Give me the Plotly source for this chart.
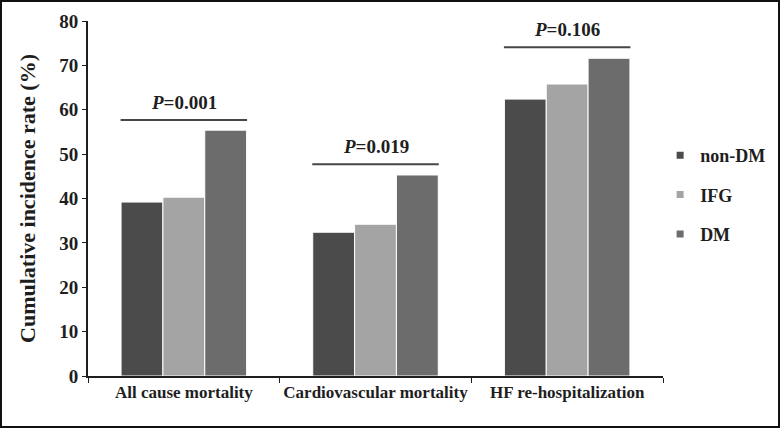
import plotly.graph_objects as go

categories = ["All cause mortality", "Cardiovascular mortality", "HF re-hospitalization"]
non_dm = [39.2, 32.4, 62.4]
ifg = [40.3, 34.2, 65.8]
dm = [55.4, 45.3, 71.6]
p_values = ["0.001", "0.019", "0.106"]
p_line_y = [57.7, 47.7, 74.1]

series = [("non-DM", non_dm, "#4b4b4b"), ("IFG", ifg, "#a4a4a4"), ("DM", dm, "#6c6c6c")]

font_fam = "Liberation Serif"
ink = "#1e1e1e"

fig = go.Figure()
for name, vals, col in series:
    fig.add_trace(go.Bar(x=categories, y=vals, name=name, marker_color=col,
                         marker_line_color="white", marker_line_width=1,
                         showlegend=False, legendgroup=name))
for name, vals, col in series:
    fig.add_trace(go.Scatter(x=[None], y=[None], mode="markers", name="<b>" + name + "</b>",
                             marker=dict(symbol="square", size=7, color=col),
                             legendgroup=name, showlegend=True))

for i, (p, yv) in enumerate(zip(p_values, p_line_y)):
    fig.add_shape(type="line", xref="x", yref="y", x0=i - 0.33, x1=i + 0.33, y0=yv, y1=yv,
                  line=dict(color="#464646", width=2))
    fig.add_annotation(x=i, y=yv, xref="x", yref="y", text="<b><i>P</i>=" + p + "</b>",
                       showarrow=False, yanchor="bottom", yshift=5,
                       font=dict(family=font_fam, size=19, color=ink))

W, H = 780, 428
ml, mr, mt, mb = 88, 117, 21, 52
pw, ph = W - ml - mr, H - mt - mb

fig.update_layout(
    width=W, height=H,
    margin=dict(l=ml, r=mr, t=mt, b=mb, autoexpand=False),
    paper_bgcolor="white", plot_bgcolor="white",
    barmode="group", bargap=0.345, bargroupgap=0,
    font=dict(family=font_fam, color=ink),
    showlegend=True,
    legend=dict(x=0.995, y=0.51, xanchor="left", yanchor="middle",
                font=dict(family=font_fam, size=18, color=ink),
                tracegroupgap=13, itemwidth=30, bgcolor="rgba(0,0,0,0)"),
    xaxis=dict(showline=True, linecolor=ink, linewidth=2, ticks="outside",
               tickson="boundaries", ticklen=5, tickcolor=ink, automargin=False,
               tickfont=dict(family=font_fam, size=17, color=ink), tickangle=0,
               range=[-0.5, 2.5],
               tickvals=categories, ticktext=["<b>" + c + "</b>" for c in categories]),
    yaxis=dict(range=[0, 80], dtick=10, showline=True, linecolor=ink, linewidth=2,
               ticks="outside", ticklen=4, tickcolor=ink, showgrid=False, automargin=False,
               tickfont=dict(family=font_fam, size=19, color=ink),
               tickprefix="<b>", ticksuffix="</b>",
               title=dict(text="<b>Cumulative incidence rate (%)</b>",
                          font=dict(family=font_fam, size=22, color=ink), standoff=18),
               zeroline=False),
)
fig.add_shape(type="rect", xref="paper", yref="paper",
              x0=-(ml - 1) / pw, x1=1 + (mr - 1) / pw,
              y0=-(mb - 1) / ph, y1=1 + (mt - 1) / ph,
              line=dict(color="#111111", width=2))

fig.write_html("out.html", config={"displayModeBar": False},
               post_script="document.body.style.margin='0';document.body.style.overflow='hidden';")
